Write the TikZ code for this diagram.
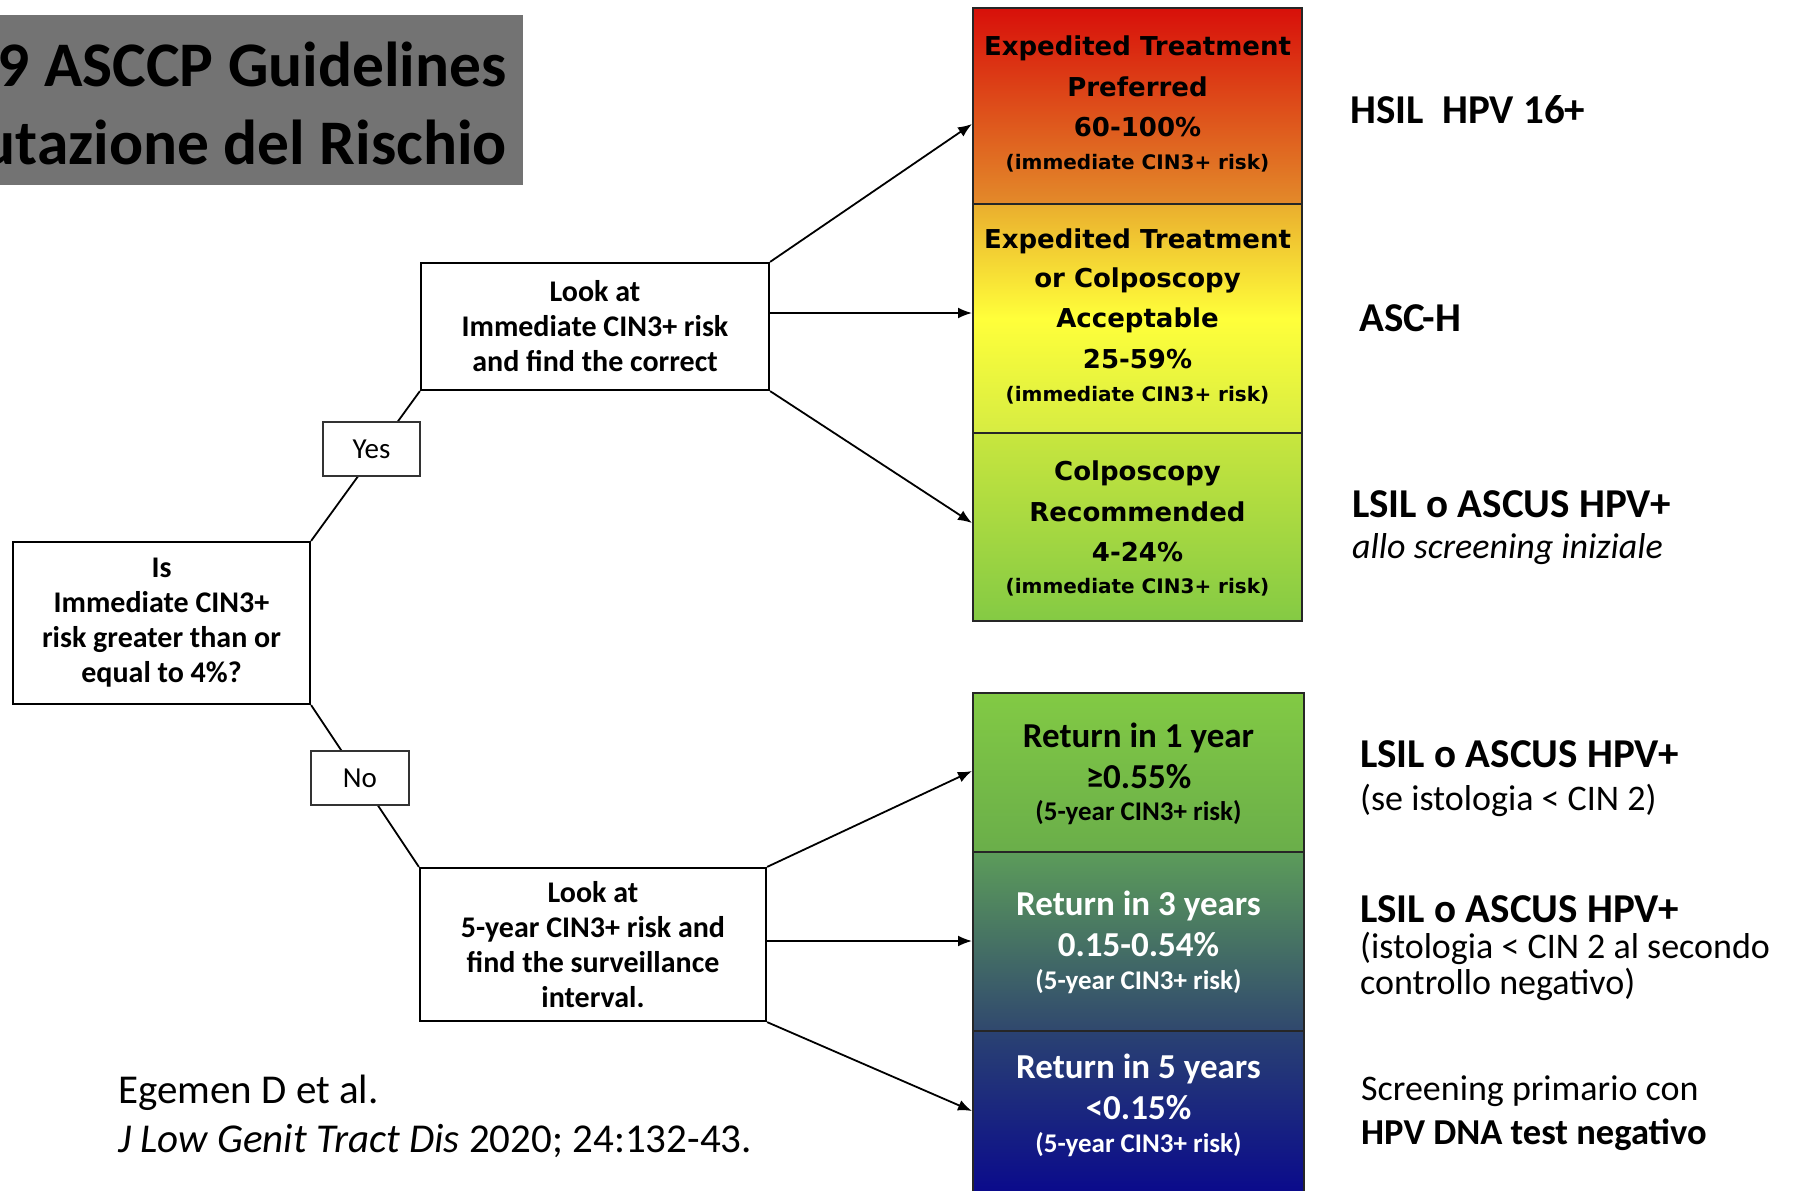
\documentclass[tikz,border=0pt]{standalone}
\usepackage{fontspec}
\setmainfont{Carlito}
\newfontfamily\verd{DejaVu Sans}
\usetikzlibrary{arrows.meta,calc}
\definecolor{titlegray}{HTML}{737373}
\definecolor{c1t}{HTML}{D8100A}
\definecolor{c1b}{HTML}{E38A2A}
\definecolor{c2t}{HTML}{EAAE2E}
\definecolor{c2m}{HTML}{FFFF3A}
\definecolor{c2b}{HTML}{D6EC42}
\definecolor{c3t}{HTML}{C8E63E}
\definecolor{c3b}{HTML}{84CA44}
\definecolor{c4t}{HTML}{82CA44}
\definecolor{c4b}{HTML}{6AAE4A}
\definecolor{c5t}{HTML}{5C9C5A}
\definecolor{c5b}{HTML}{30486E}
\definecolor{c6t}{HTML}{2A4272}
\definecolor{c6b}{HTML}{0A0A8C}
\begin{document}
\begin{tikzpicture}[x=1pt,y=-1pt,
  ttl/.style={font=\bfseries\fontsize{63.5}{70}\selectfont, inner sep=0pt, text=black},
  flow/.style={draw=black, line width=2.2pt, fill=white, align=center, inner sep=0pt, font=\bfseries\fontsize{30}{35}\selectfont},
  lbl/.style={draw=black!80, line width=1.2pt, fill=white, inner sep=0pt, font=\fontsize{29}{34}\selectfont},
  conn/.style={line width=1.8pt, draw=black},
  arr/.style={line width=1.8pt, draw=black, -{Latex[length=14pt,width=11pt]}},
  cbox/.style={draw=black!85, line width=2pt, inner sep=0pt},
  vb/.style={font=\verd\bfseries\fontsize{26}{30}\selectfont, inner sep=0pt},
  vs/.style={font=\verd\bfseries\fontsize{20}{24}\selectfont, inner sep=0pt},
  cb/.style={font=\bfseries\fontsize{35}{40}\selectfont, inner sep=0pt},
  cs/.style={font=\bfseries\fontsize{27}{32}\selectfont, inner sep=0pt},
  rh/.style={font=\bfseries\fontsize{41}{44}\selectfont, inner sep=0pt, anchor=west},
  rt/.style={font=\fontsize{36}{36}\selectfont, inner sep=0pt, anchor=west, align=left},
  cit/.style={font=\fontsize{41}{44}\selectfont, inner sep=0pt, anchor=west}]
\useasboundingbox (0,0) rectangle (1800,1191);

% title
\fill[titlegray] (0,15) rectangle (523,185);
\begin{scope}
\clip (0,15) rectangle (523,185);
\node[ttl, anchor=east] (t1) at (507,64) {2019 ASCCP Guidelines};
\node[ttl, anchor=east] (t2) at (507,142) {Valutazione del Rischio};
\end{scope}

% coloured boxes, upper column
\node[cbox, minimum width=329pt, minimum height=196pt, top color=c1t, bottom color=c1b] (b1) at (1137.5,106) {};
\node[cbox, minimum width=329pt, minimum height=229pt, top color=c2t, bottom color=c2b, middle color=c2m] (b2) at (1137.5,318.5) {};
\node[cbox, minimum width=329pt, minimum height=188pt, top color=c3t, bottom color=c3b] (b3) at (1137.5,527) {};
% lower column
\node[cbox, minimum width=331pt, minimum height=159pt, top color=c4t, bottom color=c4b] (b4) at (1138.5,772.5) {};
\node[cbox, minimum width=331pt, minimum height=179pt, top color=c5t, bottom color=c5b] (b5) at (1138.5,941.5) {};
\node[cbox, minimum width=331pt, minimum height=162pt, top color=c6t, bottom color=c6b] (b6) at (1138.5,1112) {};

% texts in upper boxes
\node[vb] (b1a) at (1137.5,48) {Expedited Treatment};
\node[vb] (b1b) at (1137.5,87) {Preferred};
\node[vb] (b1c) at (1137.5,127) {60-100\%};
\node[vs] (b1d) at (1137.5,163) {(immediate CIN3+ risk)};
\node[vb] (b2a) at (1137.5,241) {Expedited Treatment};
\node[vb] (b2b) at (1137.5,280) {or Colposcopy};
\node[vb] (b2c) at (1137.5,320) {Acceptable};
\node[vb] (b2d) at (1137.5,359) {25-59\%};
\node[vs] (b2e) at (1137.5,395) {(immediate CIN3+ risk)};
\node[vb] (b3a) at (1137.5,473) {Colposcopy};
\node[vb] (b3b) at (1137.5,512) {Recommended};
\node[vb] (b3c) at (1137.5,552) {4-24\%};
\node[vs] (b3d) at (1137.5,587) {(immediate CIN3+ risk)};

% texts in lower boxes
\node[cb] (b4a) at (1138.5,738) {Return in 1 year};
\node[cb] (b4b) at (1138.5,777) {≥0.55\%};
\node[cs] (b4c) at (1138.5,813) {(5-year CIN3+ risk)};
\node[cb, text=white] (b5a) at (1138.5,906) {Return in 3 years};
\node[cb, text=white] (b5b) at (1138.5,945) {0.15-0.54\%};
\node[cs, text=white] (b5c) at (1138.5,982) {(5-year CIN3+ risk)};
\node[cb, text=white] (b6a) at (1138.5,1069) {Return in 5 years};
\node[cb, text=white] (b6b) at (1138.5,1108) {<0.15\%};
\node[cs, text=white] (b6c) at (1138.5,1145) {(5-year CIN3+ risk)};

% flow boxes
\node[flow, minimum width=297pt, minimum height=162pt] (is) at (161.5,623) {Is\\Immediate CIN3+\\risk greater than or\\equal to 4\%?};
\node[flow, minimum width=348pt, minimum height=127pt] (look1) at (595,326.5) {Look at\\Immediate CIN3+ risk\\and find the correct};
\node[flow, minimum width=346pt, minimum height=153pt] (look2) at (593,944.5) {Look at\\5-year CIN3+ risk and\\find the surveillance\\interval.};

% connectors
\draw[conn] (is.north east) -- (look1.south west);
\draw[conn] (is.south east) -- (look2.north west);
\node[lbl, minimum width=97pt, minimum height=54pt] (yes) at (371.5,449) {Yes};
\node[lbl, minimum width=98pt, minimum height=54pt] (no) at (360,778) {No};

% arrows
\draw[arr] (look1.north east) -- ([yshift=-18pt]b1.west);
\draw[arr] ([yshift=13.5pt]look1.east) -- ([yshift=13.5pt]look1.east -| b2.west);
\draw[arr] (look1.south east) -- ([yshift=4pt]b3.west);
\draw[arr] (look2.north east) -- ([yshift=1.5pt]b4.west);
\draw[arr] ([yshift=3.5pt]look2.east) -- ([yshift=3.5pt]look2.east -| b5.west);
\draw[arr] (look2.south east) -- ([yshift=1pt]b6.west);

% right side texts
\node[rh] (r1) at (1350,110) {HSIL\ \ HPV 16+};
\node[rh] (r2) at (1359,318) {ASC-H};
\node[rh] (r3a) at (1352,504) {LSIL o ASCUS HPV+};
\node[rt] (r3b) at (1352,549) {\itshape allo screening iniziale};
\node[rh] (r4a) at (1360,754) {LSIL o ASCUS HPV+};
\node[rt] (r4b) at (1360,800) {(se istologia < CIN 2)};
\node[rh] (r5a) at (1360,909) {LSIL o ASCUS HPV+};
\node[rt] (r5b) at (1360,966) {(istologia < CIN 2 al secondo\\controllo negativo)};
\node[rt] (r6a) at (1361,1091) {Screening primario con};
\node[rt, font=\bfseries\fontsize{36.5}{36}\selectfont] (r6b) at (1361,1135) {HPV DNA test negativo};

% citation
\node[cit] (c1) at (118,1093) {Egemen D et al.};
\node[cit] (c2) at (118,1141) {\textit{J Low Genit Tract Dis} 2020; 24:132-43.};
\end{tikzpicture}
\end{document}
